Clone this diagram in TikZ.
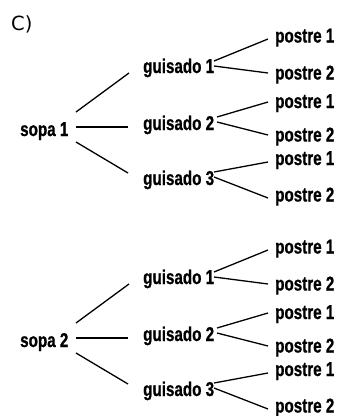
\documentclass[tikz,border=0pt]{standalone}
\usepackage{fontspec}
\newfontfamily\labfont[FakeStretch=0.76,FakeBold=0.8]{Liberation Sans Bold}
\newfontfamily\titfont{DejaVu Sans}
\tikzset{
  lab/.style={font=\labfont\fontsize{20pt}{20pt}\selectfont, inner sep=0pt, anchor=base west},
  titl/.style={font=\titfont\fontsize{19.5pt}{20pt}\selectfont, inner sep=0pt, anchor=base west},
  conn/.style={line width=1.3pt, black}
}
\newcommand\menutree[3]{%
  \begin{scope}[shift={(0,#2)}]
    \node[lab] (#1s)  at (20,136) {#3};
    \node[lab] (#1g1) at (143,73)  {guisado 1};
    \node[lab] (#1g2) at (143,130) {guisado 2};
    \node[lab] (#1g3) at (143,185) {guisado 3};
    \node[lab] (#1a1) at (275,42.5) {postre 1};
    \node[lab] (#1a2) at (275,79.5) {postre 2};
    \node[lab] (#1b1) at (275,108) {postre 1};
    \node[lab] (#1b2) at (275,141.5) {postre 2};
    \node[lab] (#1c1) at (275,165) {postre 1};
    \node[lab] (#1c2) at (275,201.5) {postre 2};
    \draw[conn] ([shift={(56,-24)}]#1s.base west) -- ([shift={(-14,0)}]#1g1.base west);
    \draw[conn] ([shift={(56,-9)}]#1s.base west) -- ([shift={(-15,-3)}]#1g2.base west);
    \draw[conn] ([shift={(56,6)}]#1s.base west) -- ([shift={(-15,-12)}]#1g3.base west);
    \draw[conn] ([shift={(71,-12)}]#1g1.base west) -- ([shift={(-7,-3.5)}]#1a1.base west);
    \draw[conn] ([shift={(71,-7)}]#1g1.base west) -- ([shift={(-7,-6.5)}]#1a2.base west);
    \draw[conn] ([shift={(74,-13)}]#1g2.base west) -- ([shift={(-7,-6)}]#1b1.base west);
    \draw[conn] ([shift={(74,-8)}]#1g2.base west) -- ([shift={(-7,-6.5)}]#1b2.base west);
    \draw[conn] ([shift={(71,-13)}]#1g3.base west) -- ([shift={(-7,-3)}]#1c1.base west);
    \draw[conn] ([shift={(71,-8)}]#1g3.base west) -- ([shift={(-7,-3.5)}]#1c2.base west);
  \end{scope}}
\begin{document}
\begin{tikzpicture}[x=1pt,y=-1pt]
  \fill[white] (0,0) rectangle (340,416);
  \useasboundingbox (0,0) rectangle (340,416);
  \node[titl] (title) at (11,30) {C)};
  \menutree{t}{0}{sopa 1}
  \menutree{u}{211}{sopa 2}
\end{tikzpicture}
\end{document}
